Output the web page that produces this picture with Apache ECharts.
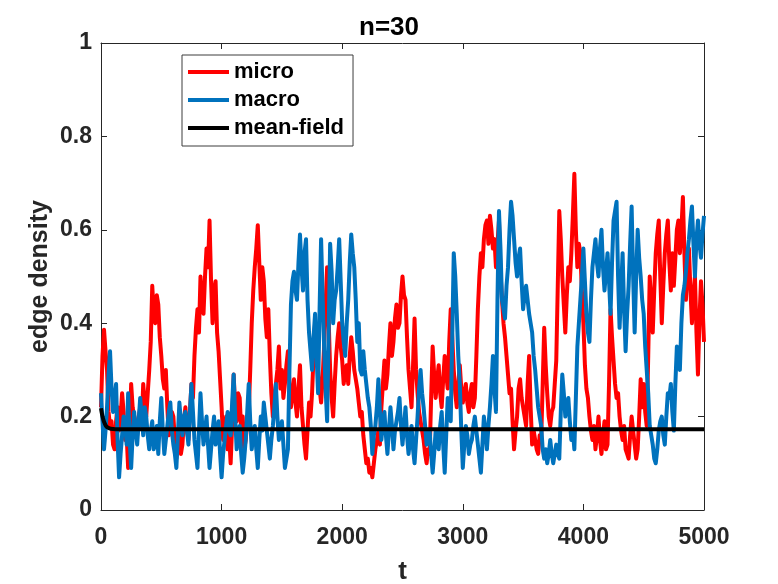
<!DOCTYPE html>
<html>
<head>
<meta charset="utf-8">
<script src="https://cdn.jsdelivr.net/npm/echarts@6/dist/echarts.min.js"></script>
<style>
  html, body { margin: 0; padding: 0; background: #fff; }
  #main { width: 778px; height: 584px; }
</style>
</head>
<body>
<div id="main"></div>
<script>
// samples every 12.5 time units, t = 0 .. 5000
var step = 12.5;

var micro = [
  0.22,0.33,0.386,0.34,0.30,0.21,0.18,0.19,0.14,0.13,0.19,0.22,0.17,0.20,0.25,0.21,0.15,0.16,0.09,0.15,
  0.27,0.22,0.20,0.17,0.16,0.20,0.22,0.18,0.27,0.23,0.20,0.25,0.30,0.36,0.48,0.42,0.40,0.46,0.44,0.37,
  0.33,0.28,0.26,0.30,0.22,0.16,0.17,0.21,0.20,0.15,0.11,0.14,0.18,0.12,0.14,0.19,0.22,0.17,0.15,0.21,
  0.27,0.24,0.33,0.39,0.43,0.38,0.50,0.45,0.42,0.50,0.56,0.52,0.62,0.49,0.40,0.47,0.49,0.38,0.34,0.28,
  0.22,0.15,0.17,0.20,0.13,0.16,0.10,0.18,0.29,0.22,0.19,0.25,0.24,0.17,0.20,0.13,0.15,0.19,0.21,0.30,
  0.40,0.47,0.52,0.56,0.61,0.53,0.45,0.52,0.49,0.41,0.37,0.43,0.33,0.25,0.20,0.24,0.27,0.30,0.35,0.26,
  0.30,0.24,0.27,0.31,0.34,0.27,0.22,0.25,0.28,0.23,0.20,0.26,0.31,0.22,0.18,0.14,0.11,0.17,0.23,0.20,
  0.25,0.33,0.40,0.36,0.30,0.26,0.23,0.28,0.35,0.44,0.52,0.41,0.30,0.24,0.20,0.27,0.33,0.37,0.40,0.35,
  0.32,0.27,0.30,0.31,0.27,0.33,0.37,0.34,0.30,0.28,0.26,0.23,0.20,0.21,0.16,0.13,0.10,0.11,0.08,0.09,
  0.07,0.10,0.13,0.15,0.17,0.14,0.22,0.27,0.32,0.26,0.29,0.35,0.40,0.33,0.36,0.41,0.44,0.39,0.40,0.46,
  0.50,0.46,0.45,0.37,0.30,0.26,0.22,0.31,0.41,0.30,0.25,0.21,0.19,0.17,0.15,0.12,0.10,0.13,0.12,0.24,
  0.35,0.29,0.24,0.28,0.31,0.25,0.22,0.28,0.33,0.29,0.26,0.36,0.43,0.37,0.30,0.25,0.22,0.27,0.31,0.26,
  0.23,0.25,0.27,0.23,0.21,0.25,0.27,0.22,0.24,0.33,0.43,0.50,0.55,0.52,0.58,0.61,0.62,0.57,0.63,0.60,
  0.56,0.58,0.52,0.57,0.62,0.51,0.45,0.40,0.37,0.33,0.29,0.25,0.26,0.19,0.13,0.17,0.20,0.26,0.28,0.24,
  0.22,0.20,0.18,0.27,0.33,0.22,0.14,0.17,0.17,0.13,0.12,0.16,0.15,0.27,0.39,0.31,0.25,0.20,0.18,0.21,
  0.22,0.27,0.32,0.48,0.64,0.58,0.50,0.44,0.38,0.46,0.52,0.49,0.55,0.63,0.72,0.60,0.52,0.57,0.55,0.47,
  0.40,0.31,0.26,0.24,0.20,0.17,0.15,0.18,0.13,0.16,0.20,0.15,0.12,0.16,0.19,0.13,0.14,0.27,0.43,0.37,
  0.32,0.27,0.24,0.25,0.20,0.17,0.15,0.18,0.13,0.12,0.11,0.16,0.20,0.17,0.14,0.11,0.13,0.20,0.28,0.22,
  0.27,0.21,0.18,0.33,0.50,0.44,0.38,0.47,0.55,0.59,0.62,0.50,0.40,0.48,0.55,0.59,0.62,0.53,0.47,0.55,
  0.48,0.54,0.60,0.62,0.55,0.60,0.67,0.55,0.45,0.52,0.56,0.47,0.40,0.46,0.50,0.38,0.29,0.41,0.49,0.44,
  0.36
];

var macro = [
  0.25,0.19,0.13,0.17,0.22,0.29,0.34,0.26,0.21,0.24,0.27,0.15,0.07,0.12,0.16,0.20,0.19,0.14,0.25,0.15,
  0.09,0.16,0.21,0.17,0.14,0.19,0.24,0.20,0.16,0.22,0.20,0.16,0.13,0.17,0.19,0.13,0.15,0.18,0.12,0.19,
  0.24,0.17,0.12,0.15,0.18,0.21,0.23,0.17,0.14,0.12,0.09,0.16,0.23,0.19,0.16,0.20,0.21,0.17,0.14,0.21,
  0.27,0.21,0.15,0.12,0.09,0.17,0.25,0.19,0.14,0.17,0.20,0.14,0.09,0.13,0.17,0.20,0.14,0.16,0.19,0.12,
  0.07,0.12,0.15,0.18,0.21,0.17,0.16,0.23,0.29,0.20,0.13,0.16,0.18,0.12,0.08,0.11,0.15,0.21,0.27,0.19,
  0.13,0.16,0.18,0.13,0.09,0.15,0.20,0.17,0.23,0.20,0.17,0.14,0.11,0.15,0.18,0.22,0.27,0.20,0.15,0.17,
  0.19,0.14,0.09,0.11,0.13,0.30,0.44,0.49,0.51,0.47,0.45,0.53,0.59,0.52,0.47,0.55,0.58,0.45,0.38,0.34,
  0.30,0.37,0.42,0.33,0.25,0.43,0.58,0.46,0.35,0.26,0.19,0.38,0.57,0.51,0.40,0.45,0.47,0.52,0.58,0.49,
  0.40,0.36,0.33,0.40,0.45,0.53,0.59,0.55,0.52,0.45,0.36,0.40,0.30,0.29,0.34,0.30,0.27,0.24,0.22,0.18,
  0.12,0.16,0.18,0.22,0.28,0.21,0.15,0.19,0.21,0.16,0.12,0.17,0.22,0.18,0.13,0.17,0.19,0.21,0.24,0.18,
  0.14,0.18,0.22,0.16,0.12,0.15,0.18,0.13,0.10,0.15,0.20,0.26,0.30,0.25,0.22,0.18,0.14,0.16,0.17,0.12,
  0.08,0.12,0.17,0.15,0.13,0.18,0.21,0.14,0.08,0.16,0.24,0.21,0.19,0.37,0.55,0.50,0.42,0.33,0.27,0.17,
  0.09,0.14,0.18,0.16,0.12,0.14,0.15,0.18,0.20,0.17,0.14,0.11,0.08,0.14,0.20,0.17,0.13,0.18,0.22,0.27,
  0.33,0.26,0.21,0.45,0.64,0.56,0.45,0.43,0.41,0.48,0.52,0.60,0.66,0.63,0.58,0.53,0.50,0.54,0.56,0.49,
  0.43,0.46,0.48,0.45,0.42,0.40,0.38,0.33,0.30,0.26,0.22,0.20,0.18,0.13,0.11,0.13,0.10,0.12,0.15,0.12,
  0.10,0.12,0.14,0.12,0.11,0.21,0.29,0.25,0.20,0.22,0.24,0.19,0.15,0.17,0.13,0.24,0.35,0.40,0.45,0.50,
  0.56,0.49,0.42,0.38,0.36,0.45,0.52,0.55,0.58,0.53,0.50,0.56,0.60,0.52,0.47,0.51,0.55,0.49,0.42,0.53,
  0.62,0.64,0.66,0.50,0.39,0.47,0.55,0.43,0.34,0.42,0.48,0.57,0.65,0.50,0.38,0.50,0.60,0.54,0.50,0.45,
  0.42,0.35,0.30,0.25,0.18,0.16,0.14,0.11,0.10,0.13,0.17,0.19,0.20,0.16,0.14,0.20,0.25,0.24,0.27,0.21,
  0.17,0.27,0.35,0.32,0.30,0.40,0.46,0.48,0.51,0.55,0.58,0.62,0.65,0.57,0.50,0.58,0.62,0.57,0.54,0.59,
  0.63
];

var meanT = [0, 10, 20, 30, 45, 60, 80, 120, 5000];
var meanV = [0.218, 0.203, 0.193, 0.186, 0.179, 0.176, 0.174, 0.173, 0.173];

var xTicks = [0, 1000, 2000, 3000, 4000, 5000];
var yTicks = [0, 0.2, 0.4, 0.6, 0.8, 1];

var font = '"Liberation Sans", Arial, Helvetica, sans-serif';
var axisColor = '#262626';

function pairs(vals) {
  return vals.map(function (v, i) { return [i * step, v]; });
}

var chart = echarts.init(document.getElementById('main'));

var xBase = {
  type: 'value',
  min: xTicks[0],
  max: xTicks[xTicks.length - 1],
  interval: 1000,
  axisLine: { show: true, onZero: false, lineStyle: { color: axisColor, width: 1 } },
  axisTick: { show: true, inside: true, length: 6, lineStyle: { color: axisColor } },
  splitLine: { show: false }
};
var yBase = {
  type: 'value',
  min: yTicks[0],
  max: yTicks[yTicks.length - 1],
  interval: 0.2,
  axisLine: { show: true, onZero: false, lineStyle: { color: axisColor, width: 1 } },
  axisTick: { show: true, inside: true, length: 6, lineStyle: { color: axisColor } },
  splitLine: { show: false }
};

option = {
  animation: false,
  backgroundColor: '#fff',
  title: {
    text: 'n=30',
    left: 'center',
    top: 10,
    textStyle: { fontFamily: font, fontWeight: 'bold', fontSize: 26, color: '#000' }
  },
  legend: {
    orient: 'vertical',
    left: 182,
    top: 55,
    padding: [6, 9, 7, 6],
    itemGap: 6,
    itemWidth: 41,
    itemHeight: 4,
    icon: 'rect',
    backgroundColor: '#fff',
    borderColor: '#3c3c3c',
    borderWidth: 1,
    borderRadius: 0,
    textStyle: { fontFamily: font, fontWeight: 'bold', fontSize: 22, color: '#000', lineHeight: 22 },
    data: ['micro', 'macro', 'mean-field']
  },
  grid: { left: 101, right: 74, top: 43, bottom: 74, outerBoundsMode: 'none' },
  xAxis: [
    Object.assign({}, xBase, {
      position: 'bottom',
      name: 't',
      nameLocation: 'middle',
      nameGap: 49,
      nameMoveOverlap: false,
      nameTextStyle: { fontFamily: font, fontWeight: 'bold', fontSize: 26, color: axisColor },
      axisLabel: {
        fontFamily: font, fontWeight: 'bold', fontSize: 23, color: axisColor, margin: 16,
        formatter: function (v) { return String(v); }
      }
    }),
    Object.assign({}, xBase, { position: 'top', axisLabel: { show: false } })
  ],
  yAxis: [
    Object.assign({}, yBase, {
      position: 'left',
      name: 'edge density',
      nameLocation: 'middle',
      nameGap: 48,
      nameMoveOverlap: false,
      nameTextStyle: { fontFamily: font, fontWeight: 'bold', fontSize: 25, color: axisColor },
      axisLabel: { fontFamily: font, fontWeight: 'bold', fontSize: 23, color: axisColor, margin: 9 }
    }),
    Object.assign({}, yBase, { position: 'right', axisLabel: { show: false } })
  ],
  series: [
    {
      name: 'micro',
      type: 'line',
      data: pairs(micro),
      showSymbol: false,
      color: '#ff0000',
      lineStyle: { width: 4, join: 'round' }
    },
    {
      name: 'macro',
      type: 'line',
      data: pairs(macro),
      showSymbol: false,
      color: '#0072bd',
      lineStyle: { width: 4, join: 'round' }
    },
    {
      name: 'mean-field',
      type: 'line',
      data: meanT.map(function (t, i) { return [t, meanV[i]]; }),
      showSymbol: false,
      smooth: true,
      color: '#000000',
      lineStyle: { width: 4 }
    }
  ]
};

chart.setOption(option);
</script>
</body>
</html>
